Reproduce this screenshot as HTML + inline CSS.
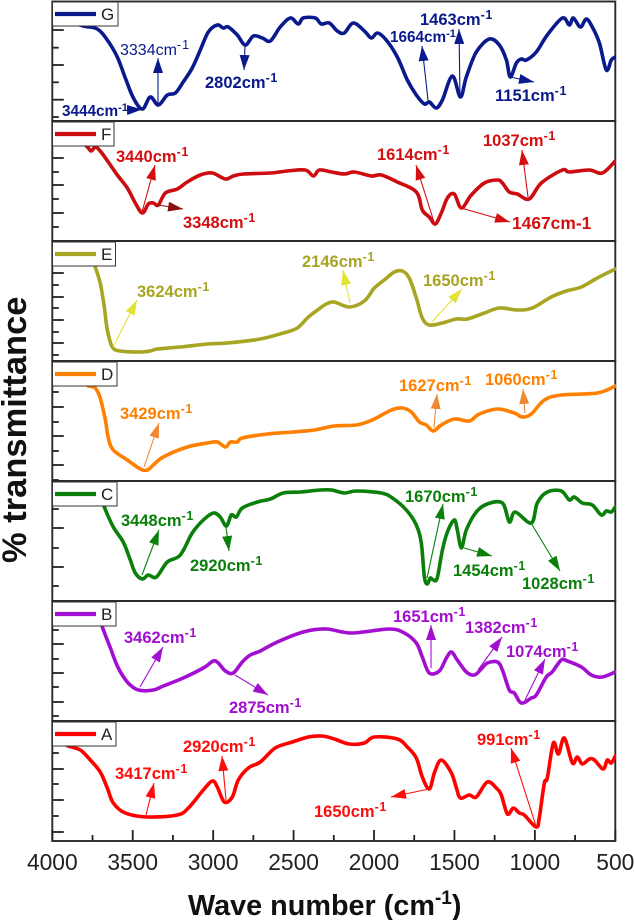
<!DOCTYPE html>
<html lang="en">
<head>
<meta charset="utf-8">
<title>FTIR spectra A to G</title>
<style>
html,body{margin:0;padding:0;background:#fff;width:634px;height:920px;overflow:hidden}
svg{display:block;font-family:"Liberation Sans",sans-serif}
.lb{font-weight:bold;font-size:16.5px}
.lb tspan{font-size:12.5px;letter-spacing:.7px}
.lg{font-size:17px;fill:#222}
.tk{font-size:22.8px;fill:#222;text-anchor:middle}
.ar{stroke-width:1.1;fill:none}
</style>
</head>
<body>
<svg id="chart" xmlns="http://www.w3.org/2000/svg" width="634" height="920" viewBox="0 0 634 920">
<defs>
<marker id="h-g" markerUnits="userSpaceOnUse" markerWidth="16" markerHeight="12" refX="15" refY="6" orient="auto"><path d="M0 1L15 6L0 11Z" fill="#0a1a8c"/></marker>
<marker id="h-f" markerUnits="userSpaceOnUse" markerWidth="16" markerHeight="12" refX="15" refY="6" orient="auto"><path d="M0 1L15 6L0 11Z" fill="#d40f0f"/></marker>
<marker id="h-f2" markerUnits="userSpaceOnUse" markerWidth="16" markerHeight="12" refX="15" refY="6" orient="auto"><path d="M0 1L15 6L0 11Z" fill="#8a0f0f"/></marker>
<marker id="h-e" markerUnits="userSpaceOnUse" markerWidth="16" markerHeight="12" refX="15" refY="6" orient="auto"><path d="M0 1L15 6L0 11Z" fill="#e3e336"/></marker>
<marker id="h-d" markerUnits="userSpaceOnUse" markerWidth="16" markerHeight="12" refX="15" refY="6" orient="auto"><path d="M0 1L15 6L0 11Z" fill="#ee8833"/></marker>
<marker id="h-c" markerUnits="userSpaceOnUse" markerWidth="16" markerHeight="12" refX="15" refY="6" orient="auto"><path d="M0 1L15 6L0 11Z" fill="#0a7f0a"/></marker>
<marker id="h-b" markerUnits="userSpaceOnUse" markerWidth="16" markerHeight="12" refX="15" refY="6" orient="auto"><path d="M0 1L15 6L0 11Z" fill="#a30fd0"/></marker>
<marker id="h-a" markerUnits="userSpaceOnUse" markerWidth="16" markerHeight="12" refX="15" refY="6" orient="auto"><path d="M0 1L15 6L0 11Z" fill="#ff0d0d"/></marker>
<clipPath id="plot-clip"><rect x="52" y="2" width="564" height="839"/></clipPath>
</defs>

<g id="frames"></g>
<g id="curves" clip-path="url(#plot-clip)"></g>
<g id="ticks"></g>

<g><rect x="52.5" y="2" width="65.5" height="24" fill="#fff" stroke="#333" stroke-width="1"/><line x1="55" y1="14" x2="96" y2="14" stroke="#0a1a8c" stroke-width="4.2"/><text class="lg" x="101" y="20">G</text></g>
<g><rect x="52.5" y="122" width="61.5" height="24" fill="#fff" stroke="#333" stroke-width="1"/><line x1="55" y1="134" x2="96" y2="134" stroke="#cc0c10" stroke-width="4.2"/><text class="lg" x="101" y="140">F</text></g>
<g><rect x="52.5" y="242" width="63" height="24" fill="#fff" stroke="#333" stroke-width="1"/><line x1="55" y1="254" x2="96" y2="254" stroke="#a8a523" stroke-width="4.2"/><text class="lg" x="101" y="260">E</text></g>
<g><rect x="52.5" y="362" width="64.5" height="24" fill="#fff" stroke="#333" stroke-width="1"/><line x1="55" y1="374" x2="96" y2="374" stroke="#ff8000" stroke-width="4.2"/><text class="lg" x="101" y="380">D</text></g>
<g><rect x="52.5" y="482" width="64.5" height="24" fill="#fff" stroke="#333" stroke-width="1"/><line x1="55" y1="494" x2="96" y2="494" stroke="#0a7f0a" stroke-width="4.2"/><text class="lg" x="101" y="500">C</text></g>
<g><rect x="52.5" y="602" width="63.5" height="24" fill="#fff" stroke="#333" stroke-width="1"/><line x1="55" y1="614" x2="96" y2="614" stroke="#a30fd0" stroke-width="4.2"/><text class="lg" x="101" y="620">B</text></g>
<g><rect x="52.5" y="722" width="63.5" height="24" fill="#fff" stroke="#333" stroke-width="1"/><line x1="55" y1="734" x2="96" y2="734" stroke="#ff0000" stroke-width="4.2"/><text class="lg" x="101" y="740">A</text></g>

<g fill="#0a1a8c" stroke="none">
<line class="ar" x1="127" y1="110" x2="142" y2="109.500" stroke="#0a1a8c" marker-end="url(#h-g)"/>
<line class="ar" x1="158" y1="104" x2="158" y2="58" stroke="#0a1a8c" marker-end="url(#h-g)"/>
<line class="ar" x1="245" y1="46" x2="244" y2="70" stroke="#0a1a8c" marker-end="url(#h-g)"/>
<line class="ar" x1="428" y1="100" x2="422" y2="46" stroke="#0a1a8c" marker-end="url(#h-g)"/>
<line class="ar" x1="460" y1="97" x2="459" y2="29" stroke="#0a1a8c" marker-end="url(#h-g)"/>
<line class="ar" x1="510" y1="77" x2="534" y2="82" stroke="#0a1a8c" marker-end="url(#h-g)"/>
<text x="62" y="116" font-weight="bold" font-size="15.300">3444cm<tspan dy="-5" font-size="11">-1</tspan></text>
<text x="120" y="55" font-size="16">3334cm<tspan dy="-6" font-size="12.500" letter-spacing="1">-1</tspan></text>
<text class="lb" x="205" y="88">2802cm<tspan dy="-6">-1</tspan></text>
<text x="390" y="42" font-weight="bold" font-size="15.300">1664cm<tspan dy="-5" font-size="11">-1</tspan></text>
<text class="lb" x="420" y="25">1463cm<tspan dy="-6">-1</tspan></text>
<text class="lb" x="495" y="101">1151cm<tspan dy="-6">-1</tspan></text>
</g>

<g fill="#d40f0f" stroke="none">
<line class="ar" x1="142" y1="212" x2="155" y2="165" stroke="#d40f0f" marker-end="url(#h-f)"/>
<line class="ar" x1="158" y1="205" x2="183" y2="209" stroke="#8a0f0f" marker-end="url(#h-f2)"/>
<line class="ar" x1="434" y1="222" x2="416" y2="165" stroke="#d40f0f" marker-end="url(#h-f)"/>
<line class="ar" x1="528" y1="197" x2="522" y2="150" stroke="#d40f0f" marker-end="url(#h-f)"/>
<line class="ar" x1="461" y1="208" x2="510" y2="222" stroke="#d40f0f" marker-end="url(#h-f)"/>
<text class="lb" x="116" y="162">3440cm<tspan dy="-6">-1</tspan></text>
<text class="lb" x="183" y="228">3348cm<tspan dy="-6">-1</tspan></text>
<text class="lb" x="377" y="160">1614cm<tspan dy="-6">-1</tspan></text>
<text class="lb" x="483" y="146">1037cm<tspan dy="-6">-1</tspan></text>
<text class="lb" x="512" y="229" style="font-size:17.4px">1467cm-1</text>
</g>

<g fill="#a8a523" stroke="none">
<line class="ar" x1="113" y1="347" x2="137" y2="300" stroke="#e3e336" marker-end="url(#h-e)"/>
<line class="ar" x1="350" y1="303" x2="343" y2="270" stroke="#e3e336" marker-end="url(#h-e)"/>
<line class="ar" x1="432" y1="322" x2="462" y2="289" stroke="#e3e336" marker-end="url(#h-e)"/>
<text class="lb" x="137" y="297">3624cm<tspan dy="-6">-1</tspan></text>
<text class="lb" x="302" y="267">2146cm<tspan dy="-6">-1</tspan></text>
<text class="lb" x="423" y="286">1650cm<tspan dy="-6">-1</tspan></text>
</g>

<g fill="#ff8000" stroke="none">
<line class="ar" x1="144" y1="467" x2="159" y2="423" stroke="#ee8833" marker-end="url(#h-d)"/>
<line class="ar" x1="434" y1="428" x2="437" y2="394" stroke="#ee8833" marker-end="url(#h-d)"/>
<line class="ar" x1="525" y1="413" x2="523" y2="389" stroke="#ee8833" marker-end="url(#h-d)"/>
<text class="lb" x="120" y="419">3429cm<tspan dy="-6">-1</tspan></text>
<text class="lb" x="399" y="391">1627cm<tspan dy="-6">-1</tspan></text>
<text class="lb" x="485" y="385">1060cm<tspan dy="-6">-1</tspan></text>
</g>

<g fill="#0a7f0a" stroke="none">
<line class="ar" x1="142" y1="575" x2="159" y2="530" stroke="#0a7f0a" marker-end="url(#h-c)"/>
<line class="ar" x1="226" y1="527" x2="229" y2="551" stroke="#0a7f0a" marker-end="url(#h-c)"/>
<line class="ar" x1="427" y1="578" x2="443" y2="504" stroke="#0a7f0a" marker-end="url(#h-c)"/>
<line class="ar" x1="464" y1="548" x2="492" y2="556" stroke="#0a7f0a" marker-end="url(#h-c)"/>
<line class="ar" x1="531" y1="523" x2="560" y2="571" stroke="#0a7f0a" marker-end="url(#h-c)"/>
<text class="lb" x="121" y="526">3448cm<tspan dy="-6">-1</tspan></text>
<text class="lb" x="190" y="571">2920cm<tspan dy="-6">-1</tspan></text>
<text class="lb" x="405" y="502">1670cm<tspan dy="-6">-1</tspan></text>
<text class="lb" x="453" y="576">1454cm<tspan dy="-6">-1</tspan></text>
<text class="lb" x="522" y="589">1028cm<tspan dy="-6">-1</tspan></text>
</g>

<g fill="#a30fd0" stroke="none">
<line class="ar" x1="140" y1="687" x2="163" y2="647" stroke="#a30fd0" marker-end="url(#h-b)"/>
<line class="ar" x1="235" y1="675" x2="268" y2="695" stroke="#a30fd0" marker-end="url(#h-b)"/>
<line class="ar" x1="431" y1="668" x2="431" y2="625" stroke="#a30fd0" marker-end="url(#h-b)"/>
<line class="ar" x1="478" y1="670" x2="502" y2="637" stroke="#a30fd0" marker-end="url(#h-b)"/>
<line class="ar" x1="525" y1="700" x2="545" y2="659" stroke="#a30fd0" marker-end="url(#h-b)"/>
<text class="lb" x="124" y="643">3462cm<tspan dy="-6">-1</tspan></text>
<text class="lb" x="229" y="713">2875cm<tspan dy="-6">-1</tspan></text>
<text class="lb" x="393" y="622">1651cm<tspan dy="-6">-1</tspan></text>
<text class="lb" x="465" y="633">1382cm<tspan dy="-6">-1</tspan></text>
<text class="lb" x="506" y="657">1074cm<tspan dy="-6">-1</tspan></text>
</g>

<g fill="#ff0d0d" stroke="none">
<line class="ar" x1="146" y1="815" x2="154" y2="783" stroke="#ff0d0d" marker-end="url(#h-a)"/>
<line class="ar" x1="226" y1="800" x2="222" y2="756" stroke="#ff0d0d" marker-end="url(#h-a)"/>
<line class="ar" x1="429" y1="789" x2="391" y2="797" stroke="#ff0d0d" marker-end="url(#h-a)"/>
<line class="ar" x1="536" y1="826" x2="511" y2="748" stroke="#ff0d0d" marker-end="url(#h-a)"/>
<text class="lb" x="115" y="779">3417cm<tspan dy="-6">-1</tspan></text>
<text class="lb" x="183" y="752">2920cm<tspan dy="-6">-1</tspan></text>
<text class="lb" x="314" y="817">1650cm<tspan dy="-6">-1</tspan></text>
<text class="lb" x="477" y="745">991cm<tspan dy="-6">-1</tspan></text>
</g>

<text transform="translate(26 563) rotate(-90)" font-size="34.500" font-weight="bold" fill="#111">% transmittance</text>
<text x="188" y="915" font-size="28.800" font-weight="bold" fill="#111">Wave number (cm<tspan dy="-11" font-size="19">-1</tspan><tspan dy="11">)</tspan></text>
</svg>

<script>
const xTickMajor = [4000, 3500, 3000, 2500, 2000, 1500, 1000, 500];
const xTickMinor = [3750, 3250, 2750, 2250, 1750, 1250, 750];

const waveG = [3888,3807,3720,3658,3596,3546,3496,3440,3391,3341,3285,3235,3186,3130,3080,3030,2974,2937,2906,2850,2800,2750,2694,2645,2583,2520,2471,2440,2365,2328,2278,2228,2185,2129,2060,2017,1979,1924,1855,1793,1737,1687,1656,1613,1575,1513,1463,1426,1364,1283,1221,1177,1153,1115,1084,1053,991,923,829,786,761,717,680,643,599,556,525,500];
const transG = [99,95,92,81,64,43,23,12,24,16,26,28,39,53,71,89,96,93,94,86,76,85,83,80,94,103,97,103,103,97,98,90,88,98,90,83,88,81,64,41,26,17,19,13,21,45,24,44,69,82,76,61,44,58,62,61,69,86,103,96,103,94,102,94,78,51,61,64];
const waveF = [3826,3782,3758,3733,3702,3652,3596,3534,3484,3440,3403,3372,3341,3297,3223,3161,3080,3005,2924,2875,2813,2645,2539,2427,2377,2340,2265,2185,2122,2017,1955,1855,1737,1700,1656,1619,1582,1544,1501,1457,1395,1314,1233,1202,1159,1109,1035,960,829,786,661,581,500];
const transF = [101,94,90,94,90,79,66,53,38,28,37,38,36,48,52,59,66,68,62,65,67,68,70,71,65,71,69,67,69,65,66,59,49,31,24,17,28,43,47,33,46,58,61,58,49,47,42,58,71,69,71,68,80];
const waveE = [3764,3733,3702,3677,3658,3627,3577,3453,3391,3347,3204,3036,2912,2707,2564,2477,2408,2334,2297,2247,2154,2060,1998,1936,1874,1824,1781,1737,1700,1656,1575,1488,1420,1314,1221,1109,1016,898,805,711,612,500];
const transE = [111,94,78,54,31,14,10,9,10,12,14,17,18,22,28,33,44,53,57,59,54,60,73,81,89,90,83,63,43,36,38,42,42,48,53,51,53,64,70,74,83,92];
const waveD = [3776,3733,3702,3670,3652,3621,3534,3453,3409,3372,3310,3161,3036,2974,2924,2893,2850,2819,2663,2502,2371,2247,2110,2011,1892,1824,1768,1718,1675,1631,1582,1501,1408,1345,1233,1128,1078,1022,941,836,612,500];
const transD = [95,93,83,61,43,31,21,12,11,16,24,34,38,39,34,39,39,43,47,49,51,55,56,61,71,73,69,59,56,50,56,62,60,67,72,68,64,67,81,86,88,95];
const waveC = [3714,3677,3621,3559,3515,3484,3440,3403,3353,3285,3204,3130,3061,2999,2956,2918,2887,2856,2819,2725,2645,2564,2458,2334,2265,2185,2110,1955,1886,1799,1737,1706,1687,1669,1650,1631,1607,1575,1544,1501,1482,1457,1426,1364,1296,1202,1159,1122,1022,985,923,836,786,755,705,643,587,556,525,500];
const transC = [111,94,74,59,41,28,22,26,24,39,46,68,81,88,84,75,86,84,93,99,102,108,109,111,111,108,110,108,103,91,76,58,24,17,23,21,23,51,69,81,71,53,71,89,97,98,79,89,78,98,109,110,101,104,98,96,86,90,89,94];
const waveB = [3714,3689,3639,3590,3528,3465,3372,3310,3186,3061,2999,2968,2924,2875,2819,2769,2707,2601,2440,2297,2141,1905,1812,1737,1700,1656,1594,1550,1519,1482,1426,1376,1333,1296,1233,1202,1159,1128,1084,1022,991,929,892,836,798,711,649,581,500];
const transB = [106,94,73,53,38,31,31,35,43,53,60,58,50,48,59,66,70,79,89,92,88,92,88,78,64,48,50,63,69,61,49,46,52,58,59,51,31,28,18,23,26,44,49,61,60,54,46,44,49];
const waveA = [3950,3901,3826,3764,3702,3658,3621,3546,3409,3223,3154,3061,3005,2974,2931,2881,2844,2781,2707,2614,2508,2408,2321,2247,2154,2060,1998,1855,1793,1737,1700,1656,1625,1582,1519,1488,1463,1408,1364,1296,1240,1209,1171,1134,1097,1066,991,972,941,923,885,854,817,767,736,705,661,630,575,550,525,500];
const transA = [99,95,91,81,69,53,38,28,24,26,33,51,60,54,39,44,61,73,79,93,99,104,105,102,97,98,104,102,94,83,64,52,68,81,68,53,43,46,44,59,53,46,27,33,28,26,14,24,58,63,98,87,103,78,84,77,82,81,72,81,78,85];

const yTicksG = [4,21.3,38.7,56,73.3,91];
const yTicksF = [14,28,42,56,69,83];
const yTicksE = [6,18,29,41,53,64,76,88];
const yTicksD = [1,16,30,45,59,74,89];
const yTicksC = [15,34,53,73,92];
const yTicksB = [5,19,34,48,62,77,91];
const yTicksA = [9,25,41,57,72,88];

const panels = [
  {id:'g', bottom:121, color:'#0a1a8c', wave:waveG, trans:transG, ticks:yTicksG, phase:1},
  {id:'f', bottom:241, color:'#cc0c10', wave:waveF, trans:transF, ticks:yTicksF, phase:1},
  {id:'e', bottom:361, color:'#a8a523', wave:waveE, trans:transE, ticks:yTicksE, phase:1},
  {id:'d', bottom:481, color:'#ff8000', wave:waveD, trans:transD, ticks:yTicksD, phase:1},
  {id:'c', bottom:601, color:'#0a7f0a', wave:waveC, trans:transC, ticks:yTicksC, phase:1},
  {id:'b', bottom:721, color:'#a30fd0', wave:waveB, trans:transB, ticks:yTicksB, phase:1},
  {id:'a', bottom:841, color:'#ff0000', wave:waveA, trans:transA, ticks:yTicksA, phase:0}
];

const NS = 'http://www.w3.org/2000/svg';
const LEFT = 52.3, RIGHT = 615.3, PANEL_H = 120;
function xScale(w){ return LEFT + (4000 - w) / 3500 * (RIGHT - LEFT); }
function yScale(v, bottom){ return bottom - v / 120 * PANEL_H; }

function smoothPath(pts){
  let d = 'M' + pts[0][0].toFixed(1) + ' ' + pts[0][1].toFixed(1);
  for (let i = 0; i < pts.length - 1; i++){
    const p0 = pts[i-1] || pts[i], p1 = pts[i], p2 = pts[i+1], p3 = pts[i+2] || p2;
    const c1x = p1[0] + (p2[0]-p0[0])/6, c1y = p1[1] + (p2[1]-p0[1])/6;
    const c2x = p2[0] - (p3[0]-p1[0])/6, c2y = p2[1] - (p3[1]-p1[1])/6;
    d += 'C' + c1x.toFixed(1) + ' ' + c1y.toFixed(1) + ' ' + c2x.toFixed(1) + ' ' + c2y.toFixed(1) + ' ' + p2[0].toFixed(1) + ' ' + p2[1].toFixed(1);
  }
  return d;
}
function tickLine(parent, x1, y1, x2, y2){
  const l = document.createElementNS(NS, 'line');
  l.setAttribute('x1', x1); l.setAttribute('y1', y1);
  l.setAttribute('x2', x2); l.setAttribute('y2', y2);
  l.setAttribute('stroke', '#222'); l.setAttribute('stroke-width', '1.8');
  
  
  parent.appendChild(l);
}

const frames = document.getElementById('frames');
const curves = document.getElementById('curves');
const ticks = document.getElementById('ticks');

panels.forEach(function(p){
  const top = p.bottom - PANEL_H;
  const r = document.createElementNS(NS, 'rect');
  r.setAttribute('x', LEFT); r.setAttribute('y', top === 1 ? 1.5 : top);
  r.setAttribute('width', RIGHT - LEFT); r.setAttribute('height', top === 1 ? PANEL_H - 0.5 : PANEL_H);
  r.setAttribute('fill', 'none'); r.setAttribute('stroke', '#2a2a2a'); r.setAttribute('stroke-width', '1.9');
  
  
  frames.appendChild(r);

  const path = document.createElementNS(NS, 'path');
  const pts = p.wave.map(function(w, i){ return [xScale(w), yScale(p.trans[i], p.bottom)]; });
  path.setAttribute('d', smoothPath(pts));
  path.setAttribute('fill', 'none');
  path.setAttribute('stroke', p.color);
  path.setAttribute('stroke-width', '3.6');
  path.setAttribute('stroke-linejoin', 'round');
  path.setAttribute('stroke-linecap', 'round');
  
  
  curves.appendChild(path);

  p.ticks.forEach(function(v, i){
    const y = yScale(v, p.bottom);
    tickLine(ticks, LEFT, y, LEFT + (i % 2 === p.phase ? 11.5 : 6.5), y);
  });
});

xTickMajor.forEach(function(w){
  tickLine(ticks, xScale(w), 841, xScale(w), 830);
  const t = document.createElementNS(NS, 'text');
  t.setAttribute('class', 'tk');
  t.setAttribute('x', xScale(w));
  t.setAttribute('y', 870);
  t.textContent = String(w);
  
  
  document.getElementById('chart').appendChild(t);
});
xTickMinor.forEach(function(w){
  tickLine(ticks, xScale(w), 841, xScale(w), 835);
});
</script>
</body>
</html>
